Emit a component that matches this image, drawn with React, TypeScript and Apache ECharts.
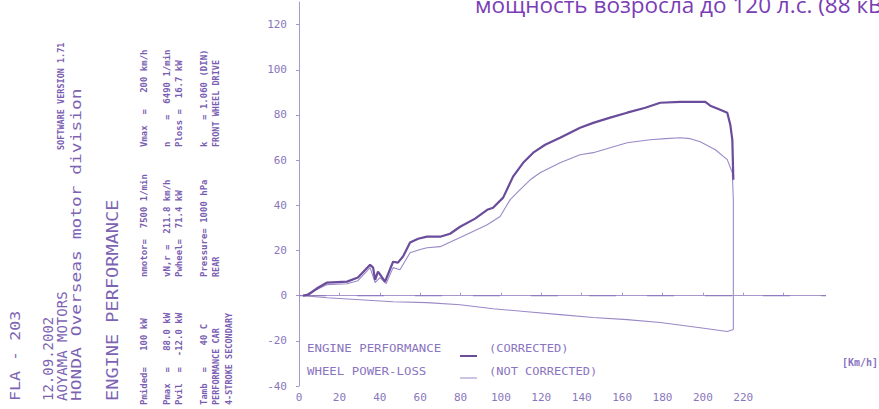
import React, { useEffect, useRef } from "react";
import * as echarts from "echarts";

// Speed axis ticks (km/h) and power axis ticks (kW)
const speedTicks = [0, 20, 40, 60, 80, 100, 120, 140, 160, 180, 200, 220];
const powerTicks = [-40, -20, 0, 20, 40, 60, 80, 100, 120];

// ENGINE PERFORMANCE (CORRECTED) – [km/h, kW]
const corrected: [number, number][] = [
  [2, 0], [4.5, 0.4], [9.4, 3.5], [13.9, 5.8], [23.8, 6.2], [29.2, 8], [35.2, 13.7],
  [36.7, 12.4], [37.7, 7], [39.1, 10.6], [40.6, 8.8], [42.6, 6.2], [46.6, 15], [49, 14.6],
  [51.5, 17.3], [55, 23.5], [59, 25.2], [63.4, 26.1], [69.9, 26.1], [74.8, 27.4], [79.8, 30.5],
  [87.2, 34.1], [93.2, 38], [96.1, 38.9], [101.1, 43.4], [106, 52.7], [111, 58.8], [116, 63.3],
  [121.9, 66.8], [129.3, 69.9], [139.2, 74.3], [145.7, 76.5], [154.1, 78.8], [162.5, 81],
  [171.5, 83.2], [178.9, 85.4], [188.8, 85.8], [201.2, 85.8], [203.7, 84.1], [208.6, 82.3],
  [212.1, 81], [213.6, 75.7], [214.6, 69], [215.1, 51.3],
];

// WHEEL POWER (NOT CORRECTED) – [km/h, kW]
const notCorrected: [number, number][] = [
  [2, 0], [5.5, 1.3], [13.9, 4.9], [23.8, 5.3], [29.2, 6.6], [35.2, 12.4], [37.7, 5.8],
  [40.1, 8], [43.1, 5.3], [46.6, 12.4], [50, 11.5], [55, 19], [60, 20.4], [63.4, 21.2],
  [69.9, 21.7], [79.8, 25.7], [87.2, 28.8], [93.2, 31.4], [99.6, 35], [104.6, 42.5],
  [109.5, 46.9], [114.5, 51.3], [119.4, 54.4], [129.3, 58.8], [139.2, 62.4], [145.7, 63.3],
  [162.5, 67.7], [173.9, 69], [181.4, 69.5], [188.8, 69.9], [193.8, 69.5], [198.7, 68.1],
  [206.2, 64.6], [212.1, 60.2], [214.6, 54.4], [215.1, 42.5], [215.1, 15.9], [215.1, -15],
];

// POWER-LOSS – [km/h, kW]
const powerLoss: [number, number][] = [
  [215.1, -15], [212.1, -15.9], [198.7, -14.2], [178.9, -11.9], [162.5, -10.6], [145.7, -9.7],
  [129.3, -8.4], [113, -7.1], [96.1, -5.8], [79.8, -4], [63.4, -3.1], [46.6, -2.7],
  [30.2, -1.8], [13.9, -0.9], [2, 0],
];

const zeroLine: [number, number][] = [[0, 0], [265, 0]];

const INK = "#7c63b4";
const INK_DARK = "#6a4c9a";
const INK_LIGHT = "#9a89c6";
const MONO = "'DejaVu Sans Mono', 'Liberation Mono', monospace";

function vtext(x: number, y: number, text: string, size: number, opts: any = {}) {
  return {
    type: "text",
    x,
    y,
    rotation: Math.PI / 2,
    scaleX: opts.scaleX ?? 1,
    silent: true,
    style: {
      text,
      fill: opts.fill ?? INK,
      font: `${opts.weight ?? "normal"} ${size}px ${MONO}`,
      align: "left",
      textAlign: "left",
      verticalAlign: "middle",
      textVerticalAlign: "middle",
    },
  };
}

function htext(x: number, y: number, text: string, size: number, opts: any = {}) {
  return {
    type: "text",
    x,
    y,
    scaleX: opts.scaleX ?? 1,
    silent: true,
    style: {
      text,
      fill: opts.fill ?? INK,
      font: `${opts.weight ?? "normal"} ${size}px ${opts.family ?? MONO}`,
      align: opts.align ?? "left",
      textAlign: opts.align ?? "left",
      verticalAlign: "middle",
      textVerticalAlign: "middle",
    },
  };
}

export default function App() {
  const ref = useRef<HTMLDivElement>(null);
  useEffect(() => {
    document.body.style.margin = "0";
    if (!ref.current) return;
    const chart = echarts.init(ref.current, undefined, { renderer: "svg" });
    const small = { weight: "bold", fill: "#7a5db2" };
    chart.setOption({
      animation: false,
      backgroundColor: "#ffffff",
      grid: {
        left: 299,
        right: 55,
        top: 2,
        bottom: 23,
        containLabel: false,
        outerBoundsMode: "none",
      },
      xAxis: {
        type: "value",
        min: 0,
        max: 260,
        interval: 20,
        axisLine: { show: true, lineStyle: { color: "#a897cc", width: 1 } },
        axisTick: { show: true, length: 3, inside: true, lineStyle: { color: "#a897cc" } },
        splitLine: { show: false },
        axisLabel: {
          showMaxLabel: false,
          color: "#8a76bd",
          fontFamily: MONO,
          fontSize: 11,
          margin: 6,
          formatter: (v: number) => (speedTicks.includes(v) ? String(v) : ""),
        },
      },
      yAxis: {
        type: "value",
        min: -40,
        max: 130,
        interval: 20,
        axisLine: { show: true, lineStyle: { color: "#a897cc", width: 1 } },
        axisTick: { show: true, length: 3, lineStyle: { color: "#a897cc" } },
        splitLine: { show: false },
        axisLabel: {
          showMaxLabel: false,
          color: "#8a76bd",
          fontFamily: MONO,
          fontSize: 11,
          margin: 12,
          formatter: (v: number) => (powerTicks.includes(v) ? String(v) : ""),
        },
      },
      series: [
        {
          name: "zero",
          type: "line",
          data: zeroLine,
          showSymbol: false,
          silent: true,
          clip: false,
          lineStyle: { color: "#8f7bc0", width: 1.2, type: [27, 31] },
        },
        {
          name: "POWER-LOSS",
          type: "line",
          data: powerLoss,
          showSymbol: false,
          lineStyle: { color: INK_LIGHT, width: 1.1 },
        },
        {
          name: "NOT CORRECTED",
          type: "line",
          data: notCorrected,
          showSymbol: false,
          lineStyle: { color: INK_LIGHT, width: 1.1 },
        },
        {
          name: "CORRECTED",
          type: "line",
          data: corrected,
          showSymbol: false,
          lineStyle: { color: INK_DARK, width: 2.2 },
        },
      ],
      graphic: [
        // top caption (cut off at the top and right, as in the scan)
        htext(475, 4, "мощность возросла до 120 л.с. (88 кВт)", 22.5, {
          family: "'Open Sans', 'Noto Sans', sans-serif",
          fill: "#7a3db5",
        }),
        // left rotated header block
        vtext(15, 401, "FLA - 203", 14, { scaleX: 1.19 }),
        vtext(61, 150, "SOFTWARE VERSION 1.71", 8.5, small),
        vtext(48, 401, "12.09.2002", 14),
        vtext(62, 401, "AOYAMA MOTORS", 14),
        vtext(76, 401, "HONDA Overseas motor division", 14, { scaleX: 1.28 }),
        vtext(113, 401, "ENGINE PERFORMANCE", 15.5, { scaleX: 1.2 }),
        vtext(144, 405, "Pmided=   100 kW", 9, small),
        vtext(144, 277, "nmotor=  7500 1/min", 9, small),
        vtext(144, 147, "Vmax  =   200 km/h", 9, small),
        vtext(167, 405, "Pmax  =   88.0 kW", 9, small),
        vtext(167, 277, "vN,r =  211.8 km/h", 9, small),
        vtext(167, 147, "n    =  6490 1/min", 9, small),
        vtext(179, 405, "Pvil  =  -12.0 kW", 9, small),
        vtext(179, 277, "Pwheel=  71.4 kW", 9, small),
        vtext(179, 147, "Ploss =  16.7 kW", 9, small),
        vtext(204, 405, "Tamb  =    40 C", 9, small),
        vtext(204, 277, "Pressure= 1000 hPa", 9, small),
        vtext(204, 147, "k    = 1.060 (DIN)", 9, small),
        vtext(216, 405, "PERFORMANCE CAR", 8.5, small),
        vtext(216, 277, "REAR", 8.5, small),
        vtext(216, 147, "FRONT WHEEL DRIVE", 8.5, small),
        vtext(229, 405, "4-STROKE SECONDARY", 8.5, small),
        // in-plot legend
        htext(307, 349, "ENGINE PERFORMANCE", 10, { scaleX: 1.24, fill: "#8a74bf" }),
        htext(307, 372, "WHEEL POWER-LOSS", 10, { scaleX: 1.24, fill: "#8a74bf" }),
        {
          type: "line",
          silent: true,
          shape: { x1: 460, y1: 356, x2: 477, y2: 356 },
          style: { stroke: INK_DARK, lineWidth: 2 },
        },
        {
          type: "line",
          silent: true,
          shape: { x1: 460, y1: 378, x2: 477, y2: 378 },
          style: { stroke: INK_LIGHT, lineWidth: 1 },
        },
        htext(489, 349, "(CORRECTED)", 10, { scaleX: 1.2, fill: "#8a74bf" }),
        htext(489, 372, "(NOT CORRECTED)", 10, { scaleX: 1.2, fill: "#8a74bf" }),
        htext(878, 362, "[Km/h]", 10, { align: "right", weight: "bold", fill: "#8a74bf" }),
      ],
    });
    return () => chart.dispose();
  }, []);
  return <div ref={ref} style={{ width: 879, height: 409 }} />;
}
